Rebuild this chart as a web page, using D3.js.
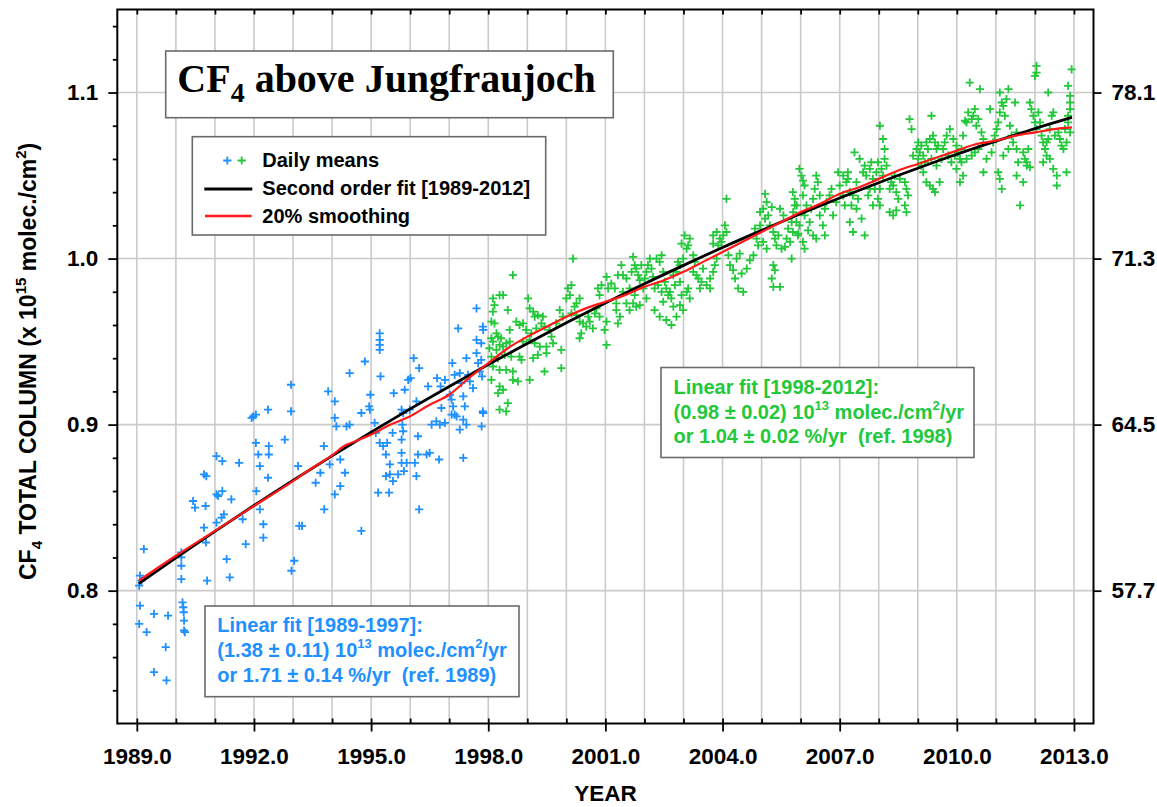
<!DOCTYPE html>
<html>
<head>
<meta charset="utf-8">
<script src="https://cdn.jsdelivr.net/npm/d3@7"></script>
<style>
  html, body { margin: 0; padding: 0; background: #fff; }
  svg text { font-family: "Liberation Sans", Arial, sans-serif; font-weight: bold; }
</style>
</head>
<body>
<svg id="chart" width="1157" height="807"></svg>
<script>
// Daily mean CF4 total columns (year, 10^15 molec./cm^2), two instrument periods
const blueDaily = [
[1989.18,0.825],[1989.08,0.809],[1989.12,0.806],[1989.06,0.803],[1989.08,0.791],[1989.06,0.780],[1989.25,0.775],[1989.44,0.786],[1989.80,0.785],[1989.74,0.766],[1989.44,0.751],[1989.76,0.746],
[1990.14,0.823],[1990.14,0.820],[1990.14,0.815],[1990.14,0.807],[1990.17,0.793],[1990.19,0.790],[1990.20,0.787],[1990.21,0.782],[1990.21,0.776],[1990.23,0.775],
[1990.44,0.854],[1990.49,0.850],[1990.76,0.851],[1990.72,0.870],[1990.78,0.869],[1990.72,0.838],[1990.77,0.829],[1990.80,0.806],
[1991.04,0.881],[1991.19,0.878],[1991.04,0.858],[1991.19,0.860],[1991.08,0.857],[1991.42,0.855],[1991.23,0.846],[1991.17,0.844],[1991.04,0.841],[1991.30,0.819],[1991.38,0.808],[1991.62,0.877],[1991.71,0.843],[1991.79,0.828],
[1991.94,0.904],[1991.98,0.905],[1992.05,0.906],[1992.36,0.909],[1992.05,0.889],[1992.11,0.882],[1992.38,0.887],[1992.38,0.882],[1992.15,0.875],[1992.36,0.868],[1992.06,0.860],[1992.15,0.849],[1992.24,0.840],[1992.24,0.832],[1992.79,0.891],
[1992.95,0.924],[1992.95,0.908],[1993.13,0.875],[1993.16,0.839],[1993.23,0.839],[1993.03,0.818],[1992.96,0.812],
[1993.58,0.865],[1993.79,0.887],[1993.90,0.920],[1994.07,0.914],[1994.07,0.904],[1994.11,0.899],[1994.37,0.899],[1994.45,0.900],[1993.94,0.876],[1993.70,0.871],[1993.80,0.849],[1994.07,0.858],[1994.21,0.863],[1994.33,0.871],[1994.21,0.879],[1994.45,0.931],[1994.75,0.836],
[1994.75,0.907],[1994.84,0.938],[1994.95,0.911],[1994.98,0.918],[1994.97,0.909],[1995.22,0.955],[1995.22,0.951],[1995.22,0.948],[1995.22,0.945],[1995.24,0.929],[1995.09,0.901],[1995.12,0.895],[1995.18,0.859],[1995.46,0.859],[1995.22,0.889],[1995.31,0.887],[1995.41,0.889],[1995.38,0.882],[1995.48,0.876],[1995.48,0.870],[1995.56,0.866],[1995.38,0.869],[1995.58,0.919],[1995.55,0.895],
[1995.78,0.909],[1995.82,0.907],[1995.86,0.921],[1995.95,0.927],[1996.01,0.928],[1996.09,0.940],[1996.23,0.934],[1995.80,0.900],[1995.82,0.896],[1995.78,0.891],[1995.78,0.883],[1995.78,0.877],[1995.91,0.877],[1996.12,0.877],[1996.20,0.893],[1996.20,0.882],[1996.42,0.882],[1996.50,0.883],[1996.74,0.879],[1996.16,0.869],[1996.23,0.849],[1995.84,0.872],[1995.69,0.870],[1995.99,0.909],[1996.16,0.914],[1996.46,0.923],[1996.69,0.928],[1996.78,0.923],[1996.80,0.910],[1996.67,0.902],[1996.76,0.900],[1996.55,0.900],[1996.89,0.901],
[1997.08,0.937],[1997.23,0.958],[1997.02,0.918],[1997.06,0.915],[1997.10,0.911],[1997.14,0.906],[1997.19,0.905],[1997.27,0.931],[1997.31,0.925],[1997.36,0.917],[1997.40,0.911],[1997.44,0.940],[1997.48,0.930],[1997.53,0.926],[1997.61,0.922],[1997.36,0.903],[1997.44,0.900],[1997.27,0.897],[1997.36,0.880],[1997.70,0.970],[1997.70,0.951],[1997.70,0.943],[1997.74,0.937],[1997.78,0.932],[1997.87,0.957],[1997.87,0.907],[1997.83,0.899],[1997.06,0.906],[1997.14,0.930],[1996.89,0.927],
[1997.86,0.959],[1997.82,0.949],[1997.82,0.939],[1997.84,0.929],[1997.86,0.908]
];

const greenDaily = [
[1998.12,0.976],[1998.29,0.978],[1998.38,0.978],[1998.16,0.972],[1998.12,0.968],[1998.08,0.962],[1998.16,0.961],[1998.21,0.955],[1998.08,0.952],[1998.25,0.953],[1998.33,0.952],[1998.12,0.950],[1998.29,0.948],[1998.03,0.946],[1998.21,0.945],[1998.38,0.947],[1998.46,0.949],[1998.08,0.941],[1998.25,0.940],[1998.42,0.942],[1998.12,0.935],[1998.29,0.933],[1998.46,0.933],[1998.08,0.927],[1998.29,0.923],[1998.38,0.921],[1998.25,0.919],[1998.50,0.913],[1998.29,0.909],[1998.46,0.908],
[1998.63,0.990],[1998.50,0.969],[1998.55,0.957],[1998.55,0.950],[1998.59,0.941],[1998.63,0.932],[1998.63,0.927],[1998.76,0.926],[1998.80,0.941],[1998.85,0.939],[1999.06,0.927],
[1998.72,0.962],[1998.80,0.960],[1998.89,0.961],[1999.02,0.976],[1999.06,0.970],[1999.15,0.968],[1999.19,0.965],[1999.27,0.966],[1998.97,0.957],[1999.10,0.955],[1999.23,0.958],[1999.36,0.961],[1999.40,0.965],[1999.44,0.959],[1999.06,0.951],[1999.19,0.949],[1999.32,0.947],[1999.49,0.947],[1999.44,0.932],[1999.57,0.957],[1999.62,0.953],[1999.66,0.949],[1999.74,0.961],[1999.87,0.945],[1999.87,0.934],[1999.15,0.940],[1999.27,0.942],[1999.49,0.943],[1998.89,0.950],
[1999.83,0.969],[1999.91,0.965],[2000.00,0.976],[2000.04,0.982],[2000.09,0.978],[2000.13,0.984],[2000.17,1.000],[2000.21,0.971],[2000.26,0.973],[2000.34,0.976],[2000.13,0.967],[2000.26,0.966],[2000.34,0.962],[2000.43,0.961],[2000.51,0.959],[2000.56,0.965],[2000.38,0.955],[2000.34,0.952],[2000.60,0.962],[2000.73,0.967],[2000.77,0.970],[2000.85,0.978],[2000.81,0.982],[2000.90,0.984],[2001.03,0.989],[2001.07,0.982],[2001.03,0.962],[2000.98,0.957],[2001.03,0.948],[2000.68,0.958],[2000.85,0.965],[2001.15,0.985],[2001.24,0.982],[2001.28,0.973],[2001.37,0.965],[2001.32,0.990],
[2001.41,0.996],[2001.45,0.990],[2001.54,0.988],[2001.62,0.982],[2001.67,0.992],[2001.71,1.001],[2001.75,0.996],[2001.79,0.994],[2001.84,0.990],[2001.88,0.987],[2001.92,0.996],[2001.97,0.982],[2001.75,0.978],[2001.79,0.971],[2001.88,0.972],[2002.05,0.976],[2002.01,0.988],[2002.05,0.992],[2002.09,0.996],[2002.14,1.000],[2002.18,0.994],[2002.22,0.989],[2002.26,0.982],[2001.54,0.973],[2001.45,0.980],[2001.28,0.969],[2001.32,0.961],[2001.62,0.969],[2001.71,0.973],
[2002.31,1.000],[2002.39,0.998],[2002.44,1.002],[2002.48,0.992],[2002.52,0.986],[2002.56,0.982],[2002.61,0.978],[2002.65,0.980],[2002.69,0.976],[2002.74,0.971],[2002.78,0.984],[2002.82,0.992],[2002.86,0.998],[2002.91,0.986],[2002.95,0.978],[2002.99,0.969],[2003.08,0.980],[2003.12,0.982],[2003.16,0.976],[2003.25,0.992],[2003.29,0.998],[2003.33,0.990],[2003.38,0.988],[2003.42,0.982],[2003.46,0.986],[2003.50,0.994],[2003.59,0.984],[2003.68,0.982],[2003.25,1.002],[2003.08,1.006],[2003.03,1.014],[2002.95,1.009],[2002.99,1.000],[2003.12,1.008],[2003.16,1.012],[2002.39,0.965],[2002.56,0.963],[2002.69,0.960],[2002.48,0.974],[2002.26,0.969],[2002.91,0.972],[2002.82,0.965],[2002.91,0.996],[2002.74,0.990],[2002.35,0.984],[2002.44,0.980],
[2003.76,1.014],[2003.85,1.016],[2003.93,1.012],[2004.02,1.014],[2003.76,1.009],[2003.89,1.008],[2003.97,1.010],[2004.10,1.016],[2004.06,1.020],[2004.15,1.002],[2004.19,0.996],[2004.27,0.993],[2004.32,0.988],[2004.36,1.000],[2004.44,1.003],[2004.49,0.991],[2004.40,0.982],[2004.53,0.980],[2004.62,0.994],[2004.70,0.999],[2004.79,1.002],[2003.80,0.996],[2003.76,0.992],[2003.68,0.988],[2003.85,1.000],[2004.10,1.036],[2004.87,1.012],[2004.91,1.008],[2004.83,1.018],[2004.96,1.020],
[2004.96,1.028],[2005.04,1.030],[2005.09,1.024],[2005.13,1.034],[2005.17,1.026],[2005.21,1.020],[2005.26,1.031],[2005.30,1.016],[2005.34,1.012],[2005.38,1.008],[2005.09,1.039],[2005.47,1.030],[2005.56,1.026],[2005.64,1.012],[2005.68,1.018],[2005.77,1.022],[2005.81,1.028],[2005.85,1.036],[2005.90,1.032],[2005.94,1.015],[2005.30,0.996],[2005.34,0.993],[2005.26,0.988],[2005.30,0.983],[2005.47,0.983],[2005.51,1.006],[2005.13,1.006],[2005.04,1.010],[2005.43,1.014],[2005.73,1.010],[2005.77,1.000],[2005.60,1.007],
[2005.80,1.040],[2005.85,1.032],[2005.89,1.022],[2005.80,1.016],[2005.93,1.014],[2005.97,1.054],[2006.02,1.050],[2006.06,1.047],[2006.10,1.044],[2006.06,1.038],[2006.15,1.032],[2006.10,1.026],[2005.97,1.020],[2006.06,1.010],[2006.10,1.006],[2006.19,1.017],[2006.23,1.022],[2006.27,1.030],[2006.32,1.036],[2006.36,1.042],[2006.40,1.050],[2006.44,1.046],[2006.49,1.038],[2006.32,1.014],[2006.40,1.012],[2006.49,1.026],[2006.57,1.020],[2006.62,1.014],
[2006.62,1.030],[2006.66,1.034],[2006.74,1.038],[2006.79,1.042],[2006.83,1.026],[2006.91,1.034],[2006.96,1.052],[2007.00,1.044],[2007.09,1.038],[2007.13,1.032],[2007.17,1.046],[2007.21,1.048],[2007.26,1.040],[2007.30,1.032],[2007.34,1.038],[2007.38,1.064],[2007.43,1.046],[2007.51,1.060],[2007.26,1.022],[2007.34,1.016],[2007.56,1.024],[2007.64,1.014],[2007.43,1.030],[2007.47,1.036],[2007.09,1.050],[2007.21,1.052],
[2007.60,1.052],[2007.64,1.056],[2007.68,1.050],[2007.77,1.054],[2007.81,1.058],[2007.85,1.048],[2007.90,1.042],[2007.94,1.052],[2007.98,1.058],[2008.03,1.080],[2008.07,1.054],[2008.11,1.072],[2008.15,1.066],[2008.15,1.060],[2008.20,1.056],[2008.11,1.050],[2008.03,1.042],[2007.98,1.036],[2007.77,1.042],[2007.73,1.038],[2007.85,1.032],[2008.03,1.032],[2008.28,1.042],[2008.32,1.046],[2008.37,1.044],[2008.41,1.050],[2008.45,1.040],[2008.28,1.028],[2008.37,1.026],[2008.45,1.029],[2008.50,1.036],[2008.54,1.048],[2008.67,1.046],[2008.71,1.042],[2008.75,1.038],[2008.67,1.032],[2008.71,1.028],
[2008.79,1.084],[2008.84,1.078],[2008.88,1.062],[2008.97,1.066],[2009.01,1.070],[2009.05,1.064],[2009.09,1.068],[2009.14,1.062],[2009.22,1.070],[2009.26,1.066],[2009.31,1.072],[2009.35,1.086],[2009.39,1.074],[2009.44,1.070],[2009.48,1.066],[2009.09,1.056],[2009.14,1.052],[2009.22,1.046],[2009.31,1.044],[2009.39,1.042],[2009.44,1.040],[2009.01,1.060],[2009.18,1.058],[2009.35,1.060],[2009.48,1.056],[2009.56,1.046],[2009.61,1.060],[2009.65,1.066],[2009.69,1.070],[2009.74,1.074],[2009.52,1.068],
[2009.82,1.078],[2009.91,1.072],[2009.99,1.068],[2010.03,1.064],[2010.08,1.060],[2010.12,1.066],[2010.16,1.074],[2010.21,1.083],[2010.25,1.082],[2010.29,1.088],[2010.33,1.106],[2010.38,1.084],[2010.42,1.086],[2010.46,1.090],[2010.50,1.080],[2010.55,1.084],[2010.59,1.102],[2010.63,1.076],[2010.68,1.072],[2010.16,1.050],[2010.08,1.046],[2009.99,1.054],[2009.86,1.058],[2009.78,1.062],[2009.95,1.062],[2010.12,1.058],[2010.25,1.060],[2010.38,1.062],[2010.46,1.064],[2010.55,1.066],
[2010.68,1.052],[2010.76,1.060],[2010.85,1.090],[2010.89,1.064],[2010.93,1.070],[2010.97,1.074],[2011.02,1.078],[2011.06,1.082],[2011.10,1.088],[2011.15,1.094],[2011.19,1.092],[2011.23,1.086],[2011.27,1.096],[2011.32,1.102],[2011.36,1.080],[2011.40,1.074],[2011.44,1.070],[2011.49,1.094],[2011.10,1.100],[2011.06,1.052],[2011.10,1.048],[2011.15,1.042],[2011.19,1.062],[2011.32,1.066],[2011.53,1.076],[2011.53,1.066],[2011.57,1.058],[2011.53,1.050],[2011.62,1.032],[2011.70,1.046],
[2011.70,1.064],[2011.74,1.060],[2011.79,1.056],[2011.83,1.066],[2011.87,1.094],[2011.91,1.090],[2011.96,1.086],[2012.00,1.082],[2012.04,1.078],[2012.09,1.088],[2012.13,1.082],[2012.17,1.074],[2012.21,1.070],[2012.26,1.066],[2012.30,1.062],[2012.34,1.072],[2012.38,1.078],[2012.43,1.086],[2012.47,1.088],[2012.34,1.100],[2012.04,1.116],[2012.00,1.110],[2012.04,1.112],[2011.79,1.058],[2011.87,1.055],[2012.21,1.058],[2012.38,1.060],[2012.47,1.054],[2012.56,1.050],[2012.56,1.044],[2012.30,1.070],[2012.51,1.074],
[2012.60,1.076],[2012.64,1.072],[2012.68,1.068],[2012.73,1.066],[2012.77,1.078],[2012.81,1.052],[2012.85,1.104],[2012.90,1.098],[2012.90,1.094],[2012.90,1.090],[2012.85,1.086],[2012.85,1.082],[2012.90,1.076],[2012.94,1.114],[2012.81,1.070]
];

// Second order fit [1989-2012]
const fitYears = [1989.05,1990,1991,1992,1993,1994,1995,1996,1997,1998,1999,2000,2001,2002,2003,2004,2005,2006,2007,2008,2009,2010,2011,2012,2012.95];
const fitValues = [0.8042,0.8198,0.8357,0.8513,0.8664,0.8812,0.8955,0.9095,0.9230,0.9362,0.9489,0.9613,0.9732,0.9848,0.9959,1.0067,1.0170,1.0270,1.0365,1.0457,1.0544,1.0628,1.0707,1.0783,1.0850];

// 20% smoothing
const smoothYears = [1989.05,1990,1991,1992,1993,1993.5,1994,1994.3,1994.6,1995,1995.5,1996,1996.5,1997,1997.5,1998,1998.5,1999,1999.5,2000,2000.5,2001,2001.5,2002,2002.5,2003,2003.5,2004,2004.5,2005,2005.5,2006,2006.5,2007,2007.5,2008,2008.5,2009,2009.5,2010,2010.5,2011,2011.5,2012,2012.5,2012.95];
const smoothValues = [0.806,0.821,0.836,0.851,0.866,0.874,0.8815,0.887,0.890,0.894,0.900,0.905,0.912,0.918,0.928,0.937,0.946,0.953,0.959,0.965,0.970,0.974,0.978,0.983,0.987,0.992,0.998,1.004,1.010,1.016,1.022,1.028,1.033,1.039,1.043,1.048,1.053,1.057,1.061,1.065,1.069,1.071,1.074,1.076,1.078,1.079];

// Axis ticks
const yearMajorTicks = [1989,1992,1995,1998,2001,2004,2007,2010,2013];
const yearMinorTicks = [1989,1990,1991,1992,1993,1994,1995,1996,1997,1998,1999,2000,2001,2002,2003,2004,2005,2006,2007,2008,2009,2010,2011,2012,2013];
const columnMajorTicks = [0.8,0.9,1.0,1.1];
const columnMinorTicks = [0.74,0.76,0.78,0.82,0.84,0.86,0.88,0.92,0.94,0.96,0.98,1.02,1.04,1.06,1.08,1.12,1.14];
const rightTickLabels = ["57.7","64.5","71.3","78.1"];

const BLUE = "#1E90FF", GREEN = "#22C83A";
const plot = { left: 117.3, right: 1093.5, top: 9.5, bottom: 723.5 };

const svg = d3.select("#chart");
svg.append("rect").attr("width", 1157).attr("height", 807).attr("fill", "#fff");

const x = d3.scaleLinear().domain([1988.5, 2013.5]).range([plot.left, plot.right]);
const y = d3.scaleLinear().domain([0.72, 1.15]).range([plot.bottom, plot.top]);

// grid
const grid = svg.append("g").attr("stroke", "#cacaca").attr("stroke-width", 1.6);
grid.selectAll("line.v").data(yearMinorTicks).join("line")
  .attr("x1", d => x(d)).attr("x2", d => x(d))
  .attr("y1", plot.top).attr("y2", plot.bottom);
grid.selectAll("line.h").data(columnMajorTicks).join("line")
  .attr("x1", plot.left).attr("x2", plot.right)
  .attr("y1", d => y(d)).attr("y2", d => y(d));

// daily means as "+" marks
const arm = 4.1;
function plus(px, py) { return `M${px - arm},${py}h${2 * arm}M${px},${py - arm}v${2 * arm}`; }
function drawPoints(data, color) {
  svg.append("g").attr("stroke", color).attr("stroke-width", 1.8).attr("fill", "none")
    .selectAll("path").data(data).join("path")
    .attr("d", d => plus(x(d[0]), y(d[1])));
}
drawPoints(blueDaily, BLUE);
drawPoints(greenDaily, GREEN);

// fit and smoothing curves
const line = d3.line().x(d => x(d[0])).y(d => y(d[1])).curve(d3.curveMonotoneX);
svg.append("path").datum(fitYears.map((t, i) => [t, fitValues[i]]))
  .attr("d", line).attr("fill", "none").attr("stroke", "#000").attr("stroke-width", 2.8);
svg.append("path").datum(smoothYears.map((t, i) => [t, smoothValues[i]]))
  .attr("d", line).attr("fill", "none").attr("stroke", "#ff1a1a").attr("stroke-width", 2.2);

// text with sub/superscripts
function richText(g, tx, ty, parts, size, fill) {
  const t = g.append("text").attr("x", tx).attr("y", ty)
    .attr("font-size", size).attr("fill", fill)
    .attr("xml:space", "preserve").style("white-space", "pre");
  let shift = 0;
  parts.forEach(p => {
    const target = p.shift || 0;
    t.append("tspan").attr("dy", target - shift)
      .attr("font-size", p.size || size).text(p.t);
    shift = target;
  });
  return t;
}

function box(x0, y0, x1, y1) {
  svg.append("rect").attr("x", x0).attr("y", y0)
    .attr("width", x1 - x0).attr("height", y1 - y0)
    .attr("fill", "#fff").attr("stroke", "#6a6a6a").attr("stroke-width", 1.6);
}

// title
box(165.7, 51, 613.3, 117.7);
richText(svg, 177.3, 92.3, [
  { t: "CF" }, { t: "4", size: 28, shift: 10 }, { t: " above Jungfraujoch" }
], 40, "#000").style("font-family", '"Liberation Serif", "Times New Roman", serif');

// legend
box(192.3, 136.7, 545.7, 235);
const legend = svg.append("g");
legend.append("path").attr("d", plus(227.3, 160.5)).attr("stroke", BLUE).attr("stroke-width", 1.8);
legend.append("path").attr("d", plus(241.7, 160.5)).attr("stroke", GREEN).attr("stroke-width", 1.8);
legend.append("line").attr("x1", 204.3).attr("x2", 252.3).attr("y1", 189).attr("y2", 189)
  .attr("stroke", "#000").attr("stroke-width", 3);
legend.append("line").attr("x1", 205).attr("x2", 251.7).attr("y1", 216).attr("y2", 216)
  .attr("stroke", "#ff1a1a").attr("stroke-width", 2.6);
[["Daily means", 166.5], ["Second order fit [1989-2012]", 195], ["20% smoothing", 222.5]]
  .forEach(([label, by]) => legend.append("text").attr("x", 262.3).attr("y", by)
    .attr("font-size", 20).attr("fill", "#000").text(label));

// linear fit annotations
function annotation(x0, y0, x1, y1, tx, baselines, lines, color) {
  box(x0, y0, x1, y1);
  lines.forEach((parts, i) => richText(svg, tx, baselines[i], parts, 20, color));
}
annotation(661, 367.5, 974, 457.5, 673.5, [393.5, 418.5, 442.5], [
  [{ t: "Linear fit [1998-2012]:" }],
  [{ t: "(0.98 \u00b1 0.02) 10" }, { t: "13", size: 13, shift: -9 }, { t: " molec./cm" }, { t: "2", size: 13, shift: -9 }, { t: "/yr" }],
  [{ t: "or 1.04 \u00b1 0.02 %/yr  (ref. 1998)" }]
], GREEN);
annotation(205, 606, 519, 696.7, 217.3, [632.3, 657.3, 681.5], [
  [{ t: "Linear fit [1989-1997]:" }],
  [{ t: "(1.38 \u00b1 0.11) 10" }, { t: "13", size: 13, shift: -9 }, { t: " molec./cm" }, { t: "2", size: 13, shift: -9 }, { t: "/yr" }],
  [{ t: "or 1.71 \u00b1 0.14 %/yr  (ref. 1989)" }]
], BLUE);

// axes
function styleAxis(g) {
  g.select(".domain").remove();
  g.selectAll(".tick line").attr("stroke", "#000").attr("stroke-width", 1.8);
  g.selectAll(".tick text").attr("fill", "#000").style("font-size", "22.5px")
    .style("font-family", '"Liberation Sans", Arial, sans-serif').style("font-weight", "bold");
}
const bottomMajor = svg.append("g").attr("transform", `translate(0,${plot.bottom})`)
  .call(d3.axisBottom(x).tickValues(yearMajorTicks).tickSize(8).tickFormat(d3.format(".1f")));
styleAxis(bottomMajor);
bottomMajor.selectAll(".tick text").attr("y", 40.5).attr("dy", null);

const bottomMinor = svg.append("g").attr("transform", `translate(0,${plot.bottom})`)
  .call(d3.axisBottom(x).tickValues(yearMinorTicks).tickSize(-5).tickFormat(""));
styleAxis(bottomMinor);
const topMinor = svg.append("g").attr("transform", `translate(0,${plot.top})`)
  .call(d3.axisTop(x).tickValues(yearMinorTicks).tickSize(-5).tickFormat(""));
styleAxis(topMinor);

const leftMajor = svg.append("g").attr("transform", `translate(${plot.left},0)`)
  .call(d3.axisLeft(y).tickValues(columnMajorTicks).tickSize(9).tickPadding(10).tickFormat(d3.format(".1f")));
styleAxis(leftMajor);
const leftMinor = svg.append("g").attr("transform", `translate(${plot.left},0)`)
  .call(d3.axisLeft(y).tickValues(columnMinorTicks).tickSize(4.5).tickFormat(""));
styleAxis(leftMinor);
const rightMajor = svg.append("g").attr("transform", `translate(${plot.right},0)`)
  .call(d3.axisRight(y).tickValues(columnMajorTicks).tickSize(8).tickPadding(10)
    .tickFormat((d, i) => rightTickLabels[i]));
styleAxis(rightMajor);

// frame
svg.append("rect").attr("x", plot.left).attr("y", plot.top)
  .attr("width", plot.right - plot.left).attr("height", plot.bottom - plot.top)
  .attr("fill", "none").attr("stroke", "#000").attr("stroke-width", 2);

// axis titles
svg.append("text").attr("x", (plot.left + plot.right) / 2).attr("y", 801)
  .attr("text-anchor", "middle").attr("font-size", 22.5).attr("fill", "#000").text("YEAR");

const yTitle = svg.append("g").attr("transform", "translate(35.5,580) rotate(-90)");
richText(yTitle, 0, 0, [
  { t: "CF" }, { t: "4", size: 15, shift: 6 }, { t: " TOTAL COLUMN (x 10" },
  { t: "15", size: 15, shift: -10 }, { t: " molec./cm" }, { t: "2", size: 15, shift: -10 }, { t: ")" }
], 23, "#000");
</script>
</body>
</html>
